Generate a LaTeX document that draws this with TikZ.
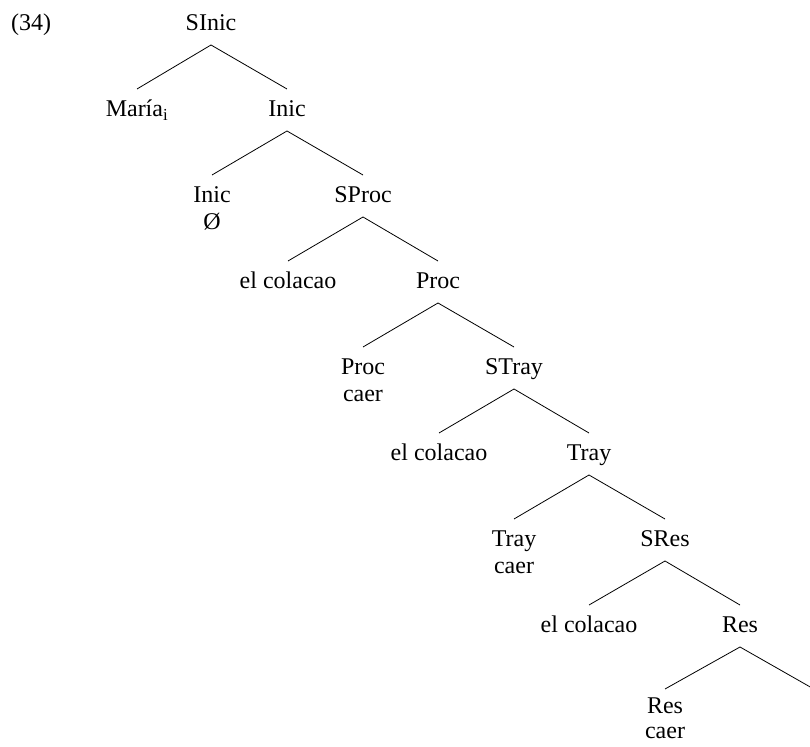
\documentclass[tikz,border=0pt]{standalone}
\usepackage{fontspec}
\setmainfont{Liberation Serif}
\begin{document}
\begin{tikzpicture}[x=1pt,y=1pt,
  lab/.style={anchor=base,inner sep=0pt,align=center,font=\fontsize{24}{28}\selectfont},
  br/.style={line width=0.8pt}]
\useasboundingbox (0,0) rectangle (810,746);
\clip (0,0) rectangle (810,746);
\node[lab] (ex) at (31,715) {(34)};
\node[lab] (sinic) at (211,715) {SInic};
\node[lab] (maria) at (137,629) {María\textsubscript{i}};
\node[lab] (inic) at (287,629) {Inic};
\node[lab] (inicz) at (212,543) {Inic};
\node[lab] (inicza) at (212,516) {Ø};
\node[lab] (sproc) at (363,543) {SProc};
\node[lab] (cola) at (288,457) {el colacao};
\node[lab] (proc) at (438,457) {Proc};
\node[lab] (procc) at (363,371) {Proc};
\node[lab] (proccb) at (363,344) {caer};
\node[lab] (stray) at (514,371) {STray};
\node[lab] (colb) at (439,285) {el colacao};
\node[lab] (tray) at (589,285) {Tray};
\node[lab] (trayc) at (514,199) {Tray};
\node[lab] (traycb) at (514,172) {caer};
\node[lab] (sres) at (665,199) {SRes};
\node[lab] (colc) at (589,113) {el colacao};
\node[lab] (res) at (740,113) {Res};
\node[lab] (resc) at (665,32) {Res};
\node[lab,text depth=0pt] (rescb) at (665,7.5) {caer};
\coordinate (resr) at (815.5,56);
\foreach \p/\c in {sinic/maria,sinic/inic,inic/inicz,inic/sproc,sproc/cola,sproc/proc,proc/procc,proc/stray,stray/colb,stray/tray,tray/trayc,tray/sres,sres/colc,sres/res}
  \draw[br] ([yshift=-14pt]\p.base) -- ([yshift=28pt]\c.base);
\draw[br] ([yshift=-14pt]res.base) -- ([yshift=25pt]resc.base);
\draw[br] ([yshift=-14pt]res.base) -- (resr);
\end{tikzpicture}
\end{document}
